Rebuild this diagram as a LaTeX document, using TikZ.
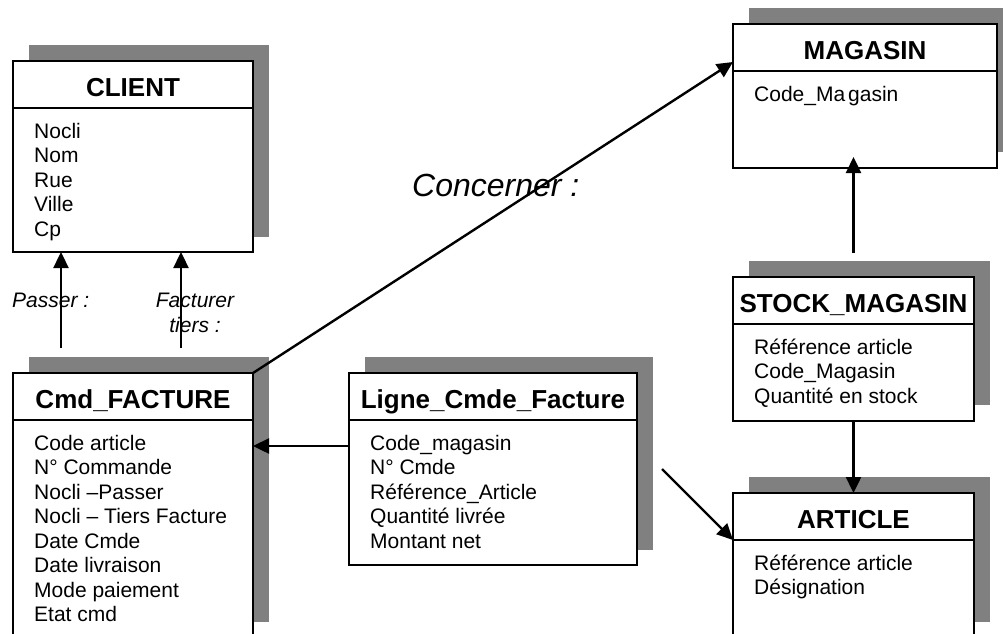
\documentclass[tikz,border=0pt]{standalone}
\usepackage{fontspec}
\setmainfont{Liberation Sans}
\usetikzlibrary{arrows.meta}
\definecolor{ombregris}{RGB}{128,128,128}
\tikzset{
  ombre/.style={fill=ombregris},
  boite/.style={draw=black, line width=2.2pt, fill=white, inner sep=0pt, outer sep=0pt},
  trait/.style={line width=2.2pt},
  titre/.style={inner sep=0pt, font=\fontsize{26}{30}\selectfont\bfseries},
  corps/.style={inner sep=0pt, font=\fontsize{21}{24.5}\selectfont},
  role/.style={inner sep=0pt, font=\fontsize{21}{25}\selectfont\itshape},
  grandrole/.style={inner sep=0pt, font=\fontsize{32}{36}\selectfont\itshape},
  fleche/.style={line width=2.4pt, -{Triangle[length=16pt,width=15pt]}},
}
% #1 name, #2 left, #3 top, #4 right, #5 bottom, #6 shadow bottom, #7 title, #8 attributes
\newcommand\entite[8]{%
  \fill[ombre] (#2+16,#3-16) rectangle (#4+16,#6);
  \node[boite, minimum width={#4-#2}, minimum height={#5-#3}, anchor=north west] (#1) at (#2,#3) {};
  \draw[trait] (#2,#3+47) -- (#4,#3+47);
  \node[titre, anchor=base] (#1-t) at ({(#2+#4)/2},#3+35) {#7};
  \node[corps, anchor=base west] (#1-c) at (#2+21,#3+77) {\begin{tabular}[t]{@{}l@{}}#8\end{tabular}};
}
\begin{document}
\begin{tikzpicture}[x=1pt, y=-1pt]
  \useasboundingbox (0,0) rectangle (1003,633);
  \clip (0,0) rectangle (1003,633);

  % entities
  \entite{client}{13}{61}{253}{252}{237}{CLIENT}{Nocli\\Nom\\Rue\\Ville\\Cp}
  \entite{cmd}{13}{373}{253}{650}{622}{Cmd\_FACTURE}{Code article\\N° Commande\\Nocli –Passer\\Nocli – Tiers Facture\\Date Cmde\\Date livraison\\Mode paiement\\Etat cmd}
  \entite{ligne}{349}{373}{637}{565}{550}{Ligne\_Cmde\_Facture}{Code\_magasin\\N° Cmde\\Référence\_Article\\Quantité livrée\\Montant net}
  \entite{mag}{733}{24}{997}{168}{152}{MAGASIN}{Code\_Ma\hspace{3pt}gasin}
  \entite{stock}{733}{277}{974}{421}{405}{STOCK\_MAGASIN}{Référence article\\Code\_Magasin\\Quantité en stock}
  \entite{article}{733}{493}{974}{650}{622}{ARTICLE}{Référence article\\Désignation}

  % role labels
  \node[role, anchor=base west] (lpasser) at (12,307) {Passer :};
  \node[role, anchor=base] (lfacturer) at (195,307) {\begin{tabular}[t]{@{}c@{}}Facturer\\tiers :\end{tabular}};
  \node[grandrole, anchor=base west] (lconcerner) at (412,196) {Concerner :};

  % associations
  \coordinate (passer) at (61,348);
  \coordinate (facturer) at (181,348);
  \draw[fleche] (passer) -- (passer |- client.south);
  \draw[fleche] (facturer) -- (facturer |- client.south);
  \draw[fleche] (cmd.north east) -- ([yshift=-38pt]mag.north west);
  \coordinate (lg) at ([yshift=23pt]ligne.west);
  \draw[fleche] (lg) -- (lg -| cmd.east);
  \coordinate (sm) at ([yshift=24pt]stock.north);
  \coordinate (mb) at ([yshift=11pt]mag.south);
  \draw[fleche] (sm) -- (sm |- mb);
  \draw[fleche] (stock.south) -- (article.north);
  \coordinate (la) at (662,469);
  \draw[fleche] (la) -- ([yshift=-47pt]article.north west);
\end{tikzpicture}
\end{document}
